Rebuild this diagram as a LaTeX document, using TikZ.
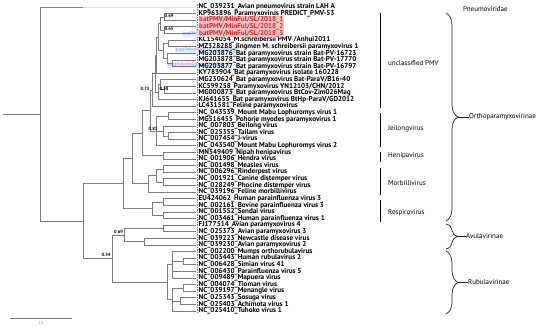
\documentclass[tikz,border=0pt]{standalone}
\usepackage{fontspec}
\setmainfont{PT Sans}
\usetikzlibrary{decorations.pathreplacing}
\definecolor{brgray}{RGB}{125,125,125}
\definecolor{batred}{RGB}{225,40,45}
\definecolor{batbg}{RGB}{250,195,195}
\definecolor{ghostpink}{RGB}{255,110,220}
\definecolor{ghostcyan}{RGB}{200,255,255}
\tikzset{
  br/.style={draw=brgray, line width=0.7pt},
  lab/.style={anchor=west, inner sep=0pt, font=\bfseries\fontsize{7.1}{7.5}\selectfont},
  batlab/.style={lab, text=batred, fill=batbg, inner xsep=0.5pt, inner ysep=0.4pt},
  ghost/.style={anchor=west, inner xsep=0.5pt, inner ysep=0.5pt, text=ghostpink, fill=ghostcyan, font=\fontsize{5.4}{6}\selectfont},
  supp/.style={inner sep=0pt, font=\bfseries\fontsize{4.6}{5}\selectfont},
  grp/.style={anchor=west, inner sep=0pt, font=\fontsize{7}{8}\selectfont},
  bar/.style={draw=black, line width=0.9pt},
  brc/.style={draw=black!85, line width=0.7pt, decorate, decoration={brace, amplitude=12pt}},
  tick/.style={draw=black!85, line width=0.7pt}
}
\begin{document}
\begin{tikzpicture}[x=1pt,y=-1pt]
\useasboundingbox (0,0) rectangle (550,327);
% tips
\foreach \i in {1,...,47}{\coordinate (t\i) at (196,{7+(\i-1)*6.6087});}
% dashed alignment line
\coordinate (dtop) at (197.5,4);
\coordinate (dbot) at (197.5,314);
\draw[brgray, line width=0.5pt, dash pattern=on 1.5pt off 1pt] (dtop) -- (dbot);
% ghost labels
\node[ghost] (g1) at (182,34.5) {batPMV/MinFul/SL/2018\_1};
\node[ghost] (g2) at (175,50.5) {batPMV/MinFul/SL/2018\_2};
\node[ghost] (g3) at (167,65.5) {batPMV/MinFul/SL/2018\_3};
% leaf labels
\foreach \i/\t in {
1/{NC\_039231\_Avian pneumovirus strain LAH A},
2/{KP963896\_Paramyxovirus PREDICT\_PMV-53},
6/{KC154054\_M.schreibersii PMV /Anhui2011},
7/{MZ328288\_Jingmen M. schreibersii paramyxovirus 1},
8/{MG203876\_Bat paramyxovirus strain Bat-PV-16723},
9/{MG203878\_Bat paramyxovirus strain Bat-PV-17770},
10/{MG203877\_Bat paramyxovirus strain Bat-PV-16797},
11/{KY783904\_Bat paramyxovirus isolate 160228},
12/{MG230624\_Bat paramyxovirus Bat-ParaV/B16-40},
13/{KC599258\_Paramyxovirus YN12103/CHN/2012},
14/{MG000873\_Bat paramyxovirus BtCov-Zim026Mag},
15/{KJ641655\_Bat paramyxovirus BtHp-ParaV/GD2012},
16/{LC431581\_Feline paramyxovirus},
17/{NC\_043539\_Mount Mabu Lophuromys virus 1},
18/{MG516455\_Pohorje myodes paramyxovirus 1},
19/{NC\_007803\_Beilong virus},
20/{NC\_025355\_Tailam virus},
21/{NC\_007454\_J-virus},
22/{NC\_043540\_Mount Mabu Lophuromys virus 2},
23/{MN549409\_Nipah henipavirus},
24/{NC\_001906\_Hendra virus},
25/{NC\_001498\_Measles virus},
26/{NC\_006296\_Rinderpest virus},
27/{NC\_001921\_Canine distemper virus},
28/{NC\_028249\_Phocine distemper virus},
29/{NC\_039196\_Feline morbillivirus},
30/{EU424062\_Human parainfluenza virus 3},
31/{NC\_002161\_Bovine parainfluenza virus 3},
32/{NC\_001552\_Sendai virus},
33/{NC\_003461\_Human parainfluenza virus 1},
34/{FJ177514\_Avian paramyxovirus 4},
35/{NC\_025373\_Avian paramyxovirus 3},
36/{NC\_039223\_Newcastle disease virus},
37/{NC\_039230\_Avian paramyxovirus 2},
38/{NC\_002200\_Mumps orthorubulavirus},
39/{NC\_003443\_Human rubulavirus 2},
40/{NC\_006428\_Simian virus 41},
41/{NC\_006430\_Parainfluenza virus 5},
42/{NC\_009489\_Mapuera virus},
43/{NC\_004074\_Tioman virus},
44/{NC\_039197\_Menangle virus},
45/{NC\_025343\_Sosuga virus},
46/{NC\_025403\_Achimota virus 1},
47/{NC\_025410\_Tuhoko virus 1}}
{\node[lab] (l\i) at (198.5,{7+(\i-1)*6.6087}) {\t};}
\node[batlab] (l3) at (198.5,20.22) {batPMV/MinFul/SL/2018\_1};
\node[batlab] (l4) at (198.5,26.83) {batPMV/MinFul/SL/2018\_2};
\node[batlab] (l5) at (198.5,33.43) {batPMV/MinFul/SL/2018\_3};
% internal nodes
\coordinate (n1) at (164,16.92);
\coordinate (n2) at (164,30.13);
\coordinate (n3) at (160,23.52);
\coordinate (n4) at (168,43.35);
\coordinate (n6a) at (172,63.17);
\coordinate (n6) at (167,58.22);
\coordinate (G) at (163,50.78);
\coordinate (E) at (158,37.15);
\coordinate (B) at (156,55.12);
\coordinate (n9) at (164,89.61);
\coordinate (D) at (160,84.65);
\coordinate (C) at (158,92.08);
\coordinate (A) at (155,73.60);
\coordinate (N73) at (152,89.87);
\coordinate (MP) at (168,116.05);
\coordinate (TJ) at (168,135.87);
\coordinate (BTJ) at (163,130.92);
\coordinate (J) at (156,130.92);
\coordinate (U) at (150,110.39);
\coordinate (Hen) at (163,155.70);
\coordinate (H) at (142,133.04);
\coordinate (MR) at (163,168.91);
\coordinate (CP) at (163,182.13);
\coordinate (M1) at (156,175.52);
\coordinate (Morb) at (148,183.78);
\coordinate (O1) at (132,158.41);
\coordinate (R3) at (163,201.96);
\coordinate (R4) at (163,215.17);
\coordinate (Resp) at (152,208.57);
\coordinate (Ortho) at (123,183.49);
\coordinate (V1) at (163,228.39);
\coordinate (V2) at (144,241.61);
\coordinate (V) at (124,235.00);
\coordinate (HS) at (183,261.43);
\coordinate (R1) at (172,264.74);
\coordinate (TM) at (183,287.87);
\coordinate (SA) at (180,301.09);
\coordinate (R2) at (172,299.43);
\coordinate (Rub) at (167,282.09);
\coordinate (N54) at (112,258.54);
\coordinate (Root2) at (83,221.02);
\coordinate (Root) at (40,114.01);
\coordinate (stem) at (3,114.01);
\coordinate (og) at (83,7);
% branches
\draw[br] (stem) -- (Root);
\draw[br] (Root) |- (og);
\draw[brgray!25, line width=0.5pt] (og) -- (t1);
\draw[br] (Root) |- (Root2);
\draw[br] (Root2) |- (Ortho);
\draw[br] (Root2) |- (N54);
\draw[br] (Ortho) |- (O1);
\draw[br] (Ortho) |- (Resp);
\draw[br] (O1) |- (H);
\draw[br] (O1) |- (Morb);
\draw[br] (H) |- (U);
\draw[br] (H) |- (Hen);
\draw[br] (U) |- (N73);
\draw[br] (U) |- (J);
\draw[br] (N73) |- (A);
\draw[br] (N73) |- (t16);
\draw[br] (A) |- (B);
\draw[br] (A) |- (C);
\draw[br] (B) |- (E);
\draw[br] (B) |- (t11);
\draw[br] (E) |- (n3);
\draw[br] (E) |- (G);
\draw[br] (n3) |- (n1);
\draw[br] (n3) |- (n2);
\draw[br] (n1) |- (t2);
\draw[br] (n1) |- (t3);
\draw[br] (n2) |- (t4);
\draw[br] (n2) |- (t5);
\draw[br] (G) |- (n4);
\draw[br] (G) |- (n6);
\draw[br] (n4) |- (t6);
\draw[br] (n4) |- (t7);
\draw[br] (n6) |- (t8);
\draw[br] (n6) |- (n6a);
\draw[br] (n6a) |- (t9);
\draw[br] (n6a) |- (t10);
\draw[br] (C) |- (D);
\draw[br] (C) |- (t15);
\draw[br] (D) |- (t12);
\draw[br] (D) |- (n9);
\draw[br] (n9) |- (t13);
\draw[br] (n9) |- (t14);
\draw[br] (J) |- (MP);
\draw[br] (J) |- (BTJ);
\draw[br] (J) |- (t22);
\draw[br] (MP) |- (t17);
\draw[br] (MP) |- (t18);
\draw[br] (BTJ) |- (t19);
\draw[br] (BTJ) |- (TJ);
\draw[br] (TJ) |- (t20);
\draw[br] (TJ) |- (t21);
\draw[br] (Hen) |- (t23);
\draw[br] (Hen) |- (t24);
\draw[br] (Morb) |- (M1);
\draw[br] (Morb) |- (t29);
\draw[br] (M1) |- (MR);
\draw[br] (M1) |- (CP);
\draw[br] (MR) |- (t25);
\draw[br] (MR) |- (t26);
\draw[br] (CP) |- (t27);
\draw[br] (CP) |- (t28);
\draw[br] (Resp) |- (R3);
\draw[br] (Resp) |- (R4);
\draw[br] (R3) |- (t30);
\draw[br] (R3) |- (t31);
\draw[br] (R4) |- (t32);
\draw[br] (R4) |- (t33);
\draw[br] (N54) |- (V);
\draw[br] (N54) |- (Rub);
\draw[br] (V) |- (V1);
\draw[br] (V) |- (V2);
\draw[br] (V1) |- (t34);
\draw[br] (V1) |- (t35);
\draw[br] (V2) |- (t36);
\draw[br] (V2) |- (t37);
\draw[br] (Rub) |- (R1);
\draw[br] (Rub) |- (R2);
\draw[br] (R1) |- (t38);
\draw[br] (R1) |- (HS);
\draw[br] (R1) |- (t41);
\draw[br] (R1) |- (t42);
\draw[br] (HS) |- (t39);
\draw[br] (HS) |- (t40);
\draw[br] (R2) |- (TM);
\draw[br] (R2) |- (SA);
\draw[br] (R2) |- (t47);
\draw[br] (TM) |- (t43);
\draw[br] (TM) |- (t44);
\draw[br] (SA) |- (t45);
\draw[br] (SA) |- (t46);
% support values
\node[supp] (s1) at (169,15.6) {0.69};
\node[supp] (s2) at (169,29.2) {0.65};
\node[supp] (s3) at (145,89.3) {0.73};
\node[supp] (s4) at (164,88.8) {0.58};
\node[supp] (s5) at (153,129.0) {0.81};
\node[supp] (s6) at (118.5,231.9) {0.69};
\node[supp] (s7) at (106,255.2) {0.54};
% scale bar
\coordinate (sb1) at (10,318);
\coordinate (sb2) at (72,318);
\draw[brgray, line width=0.6pt] (sb1) -- (sb2);
\node[inner sep=0pt, text=brgray, font=\fontsize{4}{5}\selectfont] (sbl) at (41,323.5) {2.0};
% group bars
\coordinate (b1a) at (380,13);  \coordinate (b1b) at (380,108);
\coordinate (b2a) at (380,113); \coordinate (b2b) at (380,147);
\coordinate (b3a) at (380,152); \coordinate (b3b) at (380,162);
\coordinate (b4a) at (380,168); \coordinate (b4b) at (380,195);
\coordinate (b5a) at (380,200); \coordinate (b5b) at (380,222);
\draw[bar] (b1a) -- (b1b);
\draw[bar] (b2a) -- (b2b);
\draw[bar] (b3a) -- (b3b);
\draw[bar] (b4a) -- (b4b);
\draw[bar] (b5a) -- (b5b);
\node[grp] (gU) at (388,63.3) {unclassified PMV};
\node[grp] (gJ) at (388,128.3) {Jeilongvirus};
\node[grp] (gH) at (388,155.3) {Henipavirus};
\node[grp] (gM) at (388,183.3) {Morbillivirus};
\node[grp] (gR) at (388,212.5) {Respirovirus};
% braces
\node[grp] (fP) at (463,9.5) {Pneumoviridae};
\coordinate (o1) at (446,13);  \coordinate (o2) at (446,221);
\coordinate (a1) at (446,224); \coordinate (a2) at (446,249);
\coordinate (r1) at (446,251); \coordinate (r2) at (446,314);
\draw[brc] (o1) -- (o2);
\draw[brc] (a1) -- (a2);
\draw[brc] (r1) -- (r2);
\coordinate (ot) at (458,117); \coordinate (at) at (458,236.5); \coordinate (rt) at (458,282.5);
\node[grp] (fO) at (469,117) {Orthoparamyxovirinae};
\node[grp] (fA) at (466,236.5) {Avulavirinae};
\node[grp] (fR) at (468,282.5) {Rubulavirinae};
\draw[tick] (ot) -- (fO.west);
\draw[tick] (at) -- (fA.west);
\draw[tick] (rt) -- (fR.west);
\end{tikzpicture}
\end{document}
